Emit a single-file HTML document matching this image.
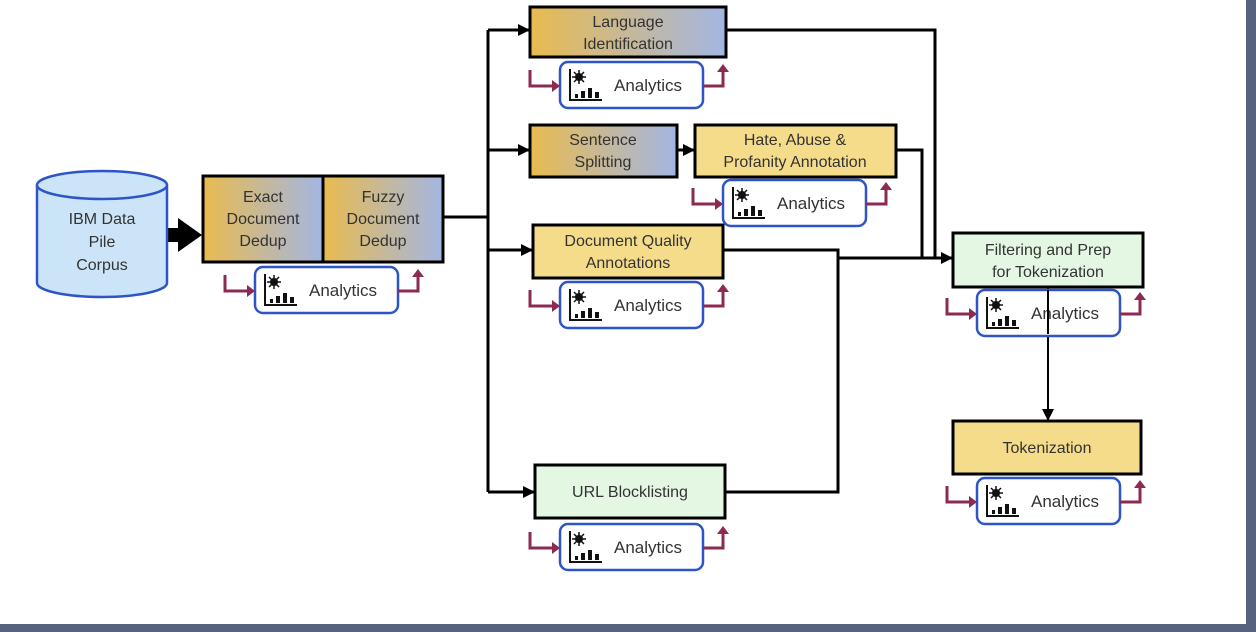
<!DOCTYPE html>
<html><head><meta charset="utf-8"><style>
html,body{margin:0;padding:0;background:#fff;}
svg{display:block;font-family:"Liberation Sans","DejaVu Sans",sans-serif;}
</style></head><body>
<svg width="1256" height="632" viewBox="0 0 1256 632" xmlns="http://www.w3.org/2000/svg">
<defs>
<linearGradient id="g" x1="0" x2="1" y1="0" y2="0"><stop offset="0" stop-color="#e9bb4f"/><stop offset="1" stop-color="#a3b6e3"/></linearGradient>
<marker id="ah" markerWidth="12" markerHeight="12" refX="11" refY="6" orient="auto" markerUnits="userSpaceOnUse"><path d="M0,0 L12,6 L0,12z" fill="#000"/></marker>
<g id="an">
 <rect x="0" y="0" width="143" height="46" rx="8" fill="#fff" stroke="#2d55c8" stroke-width="2.5"/>
 <path d="M10,7 V38 H42" fill="none" stroke="#111" stroke-width="2"/>
 <rect x="15" y="32" width="3" height="4" fill="#111"/><rect x="21" y="29" width="4" height="7" fill="#111"/><rect x="28" y="26" width="4" height="10" fill="#111"/><rect x="35" y="30" width="4" height="6" fill="#111"/>
 <circle cx="19" cy="15" r="4" fill="#111"/>
 <path d="M19,8V22M12,15H26M14,10L24,20M24,10L14,20" stroke="#111" stroke-width="1.5"/>
 <path d="M-30,8 V24 H-6" fill="none" stroke="#8b2a52" stroke-width="3"/><path d="M-8,18 L0,24 L-8,30z" fill="#8b2a52"/>
 <path d="M143,24 H163 V8" fill="none" stroke="#8b2a52" stroke-width="3"/><path d="M157,10 L163,2 L169,10z" fill="#8b2a52"/>
</g>
</defs>
<rect x="1246" y="0" width="10" height="632" fill="#56627e"/>
<rect x="0" y="624" width="1256" height="8" fill="#56627e"/>

<g fill="none" stroke="#000" stroke-width="3">
<path d="M443,217 H488"/>
<path d="M488,30 V492"/>
<path d="M488,30 H529" marker-end="url(#ah)"/>
<path d="M488,150 H529" marker-end="url(#ah)"/>
<path d="M488,250 H532" marker-end="url(#ah)"/>
<path d="M488,492 H534" marker-end="url(#ah)"/>
<path d="M677,150 H694" marker-end="url(#ah)"/>
<path d="M726,30 H935 V258"/>
<path d="M896,150 H922 V258"/>
<path d="M723,250 H838 V492 H725"/>
<path d="M838,258 H952" marker-end="url(#ah)"/>
<path d="M1048,287 V420" stroke-width="2" marker-end="url(#ah)"/>
</g>
<path d="M167,228 H178 V218 L202,235 L178,252 V242 H167z" fill="#000"/>

<path d="M37,185 V283 A65,14 0 0 0 167,283 V185" fill="#cce4f7" stroke="#2d55c8" stroke-width="2.5"/>
<ellipse cx="102" cy="185" rx="65" ry="14" fill="#cce4f7" stroke="#2d55c8" stroke-width="2.5"/>
<g font-size="16" fill="#333" text-anchor="middle">
<text x="102" y="224">IBM Data</text><text x="102" y="247">Pile</text><text x="102" y="270">Corpus</text>
</g>

<g stroke="#000" stroke-width="3">
<rect x="203" y="176" width="120" height="86" fill="url(#g)"/>
<rect x="323" y="176" width="120" height="86" fill="url(#g)"/>
<rect x="530" y="7" width="196" height="50" fill="url(#g)"/>
<rect x="530" y="125" width="147" height="52" fill="url(#g)"/>
<rect x="695" y="125" width="201" height="52" fill="#f5dc8a"/>
<rect x="533" y="225" width="190" height="53" fill="#f5dc8a"/>
<rect x="535" y="465" width="190" height="53" fill="#e3f7e3"/>
<rect x="953" y="233" width="190" height="54" fill="#e3f7e3"/>
<rect x="953" y="421" width="188" height="53" fill="#f5dc8a"/>
</g>
<g font-size="16" fill="#333" text-anchor="middle">
<text x="263" y="202">Exact</text><text x="263" y="224">Document</text><text x="263" y="246">Dedup</text>
<text x="383" y="202">Fuzzy</text><text x="383" y="224">Document</text><text x="383" y="246">Dedup</text>
<text x="628" y="27">Language</text><text x="628" y="49">Identification</text>
<text x="603" y="145">Sentence</text><text x="603" y="167">Splitting</text>
<text x="795" y="145">Hate, Abuse &amp;</text><text x="795" y="167">Profanity Annotation</text>
<text x="628" y="246">Document Quality</text><text x="628" y="268">Annotations</text>
<text x="630" y="497">URL Blocklisting</text>
<text x="1048" y="255">Filtering and Prep</text><text x="1048" y="277">for Tokenization</text>
<text x="1047" y="453">Tokenization</text>
</g>

<use href="#an" x="255" y="267"/>
<use href="#an" x="560" y="62"/>
<use href="#an" x="723" y="180"/>
<use href="#an" x="560" y="282"/>
<use href="#an" x="560" y="524"/>
<use href="#an" x="977" y="290"/>
<use href="#an" x="977" y="478"/>
<g font-size="17" fill="#333">
<text x="309" y="296">Analytics</text>
<text x="614" y="91">Analytics</text>
<text x="777" y="209">Analytics</text>
<text x="614" y="311">Analytics</text>
<text x="614" y="553">Analytics</text>
<text x="1031" y="319">Analytics</text>
<text x="1031" y="507">Analytics</text>
</g>
<path d="M1048,290 V334" stroke="#000" stroke-width="2"/>
</svg>
</body></html>
